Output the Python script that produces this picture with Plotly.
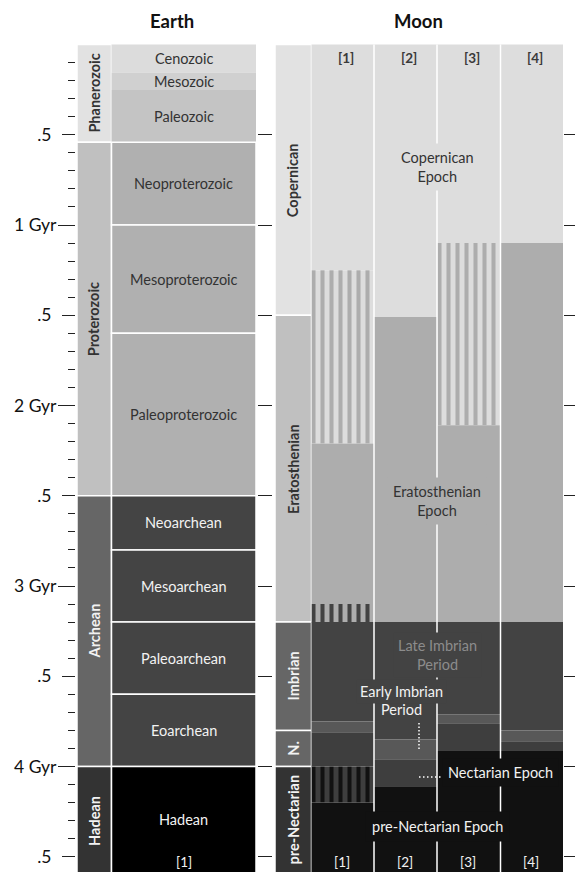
import plotly.graph_objects as go

# ---------------- data (ages in Gyr before present) ----------------
earth_eons = ["Phanerozoic", "Proterozoic", "Archean", "Hadean"]
earth_eon_bounds = [0.0, 0.541, 2.5, 4.0, 4.6]

earth_eras = ["Cenozoic", "Mesozoic", "Paleozoic", "Neoproterozoic",
              "Mesoproterozoic", "Paleoproterozoic", "Neoarchean",
              "Mesoarchean", "Paleoarchean", "Eoarchean", "Hadean"]
earth_era_bounds = [0.0, 0.155, 0.252, 0.541, 1.0, 1.6, 2.5, 2.8, 3.2,
                    3.6, 4.0, 4.6]

moon_periods = ["Copernican", "Eratosthenian", "Imbrian", "N.", "pre-Nectarian"]
moon_period_bounds = [0.0, 1.5, 3.2, 3.8, 4.0, 4.6]

moon_columns = ["[1]", "[2]", "[3]", "[4]"]

moon_col1_units = ["Copernican", "Copernican/Eratosthenian", "Eratosthenian",
                   "Eratosthenian/Late Imbrian", "Late Imbrian", "Early Imbrian",
                   "Nectarian", "Nectarian/pre-Nectarian", "pre-Nectarian"]
moon_col1_bounds = [0.0, 1.25, 2.21, 3.1, 3.2, 3.75, 3.81, 4.0, 4.2, 4.6]

moon_col2_units = ["Copernican", "Eratosthenian", "Late Imbrian", "Early Imbrian",
                   "Nectarian", "pre-Nectarian"]
moon_col2_bounds = [0.0, 1.51, 3.2, 3.85, 3.96, 4.11, 4.6]

moon_col3_units = ["Copernican", "Copernican/Eratosthenian", "Eratosthenian",
                   "Late Imbrian", "Early Imbrian", "Nectarian", "pre-Nectarian"]
moon_col3_bounds = [0.0, 1.1, 2.11, 3.2, 3.71, 3.76, 3.91, 4.6]

moon_col4_units = ["Copernican", "Eratosthenian", "Late Imbrian", "Early Imbrian",
                   "Nectarian", "pre-Nectarian"]
moon_col4_bounds = [0.0, 1.1, 3.2, 3.8, 3.86, 3.91, 4.6]

half_ticks = [0.5, 1.5, 2.5, 3.5, 4.5]
half_labels = [".5", ".5", ".5", ".5", ".5"]
gyr_ticks = [1, 2, 3, 4]
gyr_labels = ["1 Gyr", "2 Gyr", "3 Gyr", "4 Gyr"]
minor_ticks = [round(0.1 * i, 1) for i in range(1, 46)]

# ---------------- styles ----------------
FONT = "Lato"
FS = 14.5
DARK_TXT = "#333333"
LIGHT_TXT = "#f2f2f2"

eon_colors = {"Phanerozoic": "#e2e2e2", "Proterozoic": "#c0c0c0",
              "Archean": "#666666", "Hadean": "#333333"}
eon_text = {"Phanerozoic": DARK_TXT, "Proterozoic": DARK_TXT,
            "Archean": LIGHT_TXT, "Hadean": LIGHT_TXT}
era_colors = {"Cenozoic": "#dcdcdc", "Mesozoic": "#d0d0d0", "Paleozoic": "#c4c4c4",
              "Neoproterozoic": "#b0b0b0", "Mesoproterozoic": "#b0b0b0",
              "Paleoproterozoic": "#b0b0b0", "Neoarchean": "#444444",
              "Mesoarchean": "#444444", "Paleoarchean": "#444444",
              "Eoarchean": "#444444", "Hadean": "#000000"}
light_eras = ("Cenozoic", "Mesozoic", "Paleozoic", "Neoproterozoic",
              "Mesoproterozoic", "Paleoproterozoic")
era_text = {k: (DARK_TXT if k in light_eras else LIGHT_TXT) for k in era_colors}
era_outline = {k: (0 if k in ("Cenozoic", "Mesozoic", "Paleozoic") else 1.5) for k in era_colors}

period_colors = {"Copernican": "#e2e2e2", "Eratosthenian": "#c0c0c0",
                 "Imbrian": "#666666", "N.": "#666666", "pre-Nectarian": "#333333"}
period_text = {"Copernican": DARK_TXT, "Eratosthenian": DARK_TXT,
               "Imbrian": LIGHT_TXT, "N.": LIGHT_TXT, "pre-Nectarian": LIGHT_TXT}
unit_colors = {"Copernican": "#dddddd", "Eratosthenian": "#adadad",
               "Late Imbrian": "#434343", "Early Imbrian": "#585858",
               "Nectarian": "#3e3e3e", "pre-Nectarian": "#111111"}

# ---------------- geometry (page pixels) ----------------
W, H = 575, 872
ML = 3
Y0_PX, PX_PER_GYR = 44.5, 180.5
YR = [(H - Y0_PX) / PX_PER_GYR, -Y0_PX / PX_PER_GYR]

EON_X = (77, 111.5)
ERA_X = (111.5, 256)
PER_X = (275, 311.5)
COL_X = [(311.5, 374), (374, 437), (437, 500.5), (500.5, 563)]
AXIS_L, AXIS_M, AXIS_R = 75, 272, 563


def pf(px):
    return (px - ML) / (W - ML)


def py(px):
    return (px - Y0_PX) / PX_PER_GYR


fig = go.Figure()


def add_box(xs, y0, y1, color, line_w=0, pattern=None):
    marker = dict(color=color, line=dict(color="white", width=line_w))
    if pattern is not None:
        marker["pattern"] = pattern
    fig.add_trace(go.Bar(x=[(xs[0] + xs[1]) / 2], width=[xs[1] - xs[0]],
                         base=[y0], y=[y1 - y0], marker=marker,
                         hoverinfo="skip", showlegend=False))


def label(x, y, text, color, size=FS, bold=False, angle=0, bg=None, pad=1, yref="y"):
    kw = {}
    if bg is not None:
        kw["bgcolor"] = bg
    fig.add_annotation(x=x, y=y, xref="x", yref=yref, text=text, showarrow=False,
                       textangle=angle, borderpad=pad, xanchor="center", yanchor="middle",
                       font=dict(family=FONT, size=size, color=color,
                                 weight=700 if bold else 400), **kw)


# ---- Earth ----
for i, eon in enumerate(earth_eons):
    add_box(EON_X, earth_eon_bounds[i], earth_eon_bounds[i + 1], eon_colors[eon], 1.5)
for i, era in enumerate(earth_eras):
    add_box(ERA_X, earth_era_bounds[i], earth_era_bounds[i + 1], era_colors[era],
            era_outline[era])

# ---- Moon ----
for i, per in enumerate(moon_periods):
    add_box(PER_X, moon_period_bounds[i], moon_period_bounds[i + 1], period_colors[per], 1.5)

moon_cols = [(moon_col1_units, moon_col1_bounds), (moon_col2_units, moon_col2_bounds),
             (moon_col3_units, moon_col3_bounds), (moon_col4_units, moon_col4_bounds)]
for c, (units, bounds) in enumerate(moon_cols):
    for i, u in enumerate(units):
        y0, y1 = bounds[i], bounds[i + 1]
        if u in unit_colors:
            add_box(COL_X[c], y0, y1, unit_colors[u])
        else:
            younger, older = u.split("/")
            pat = dict(shape="|", size=9, solidity=0.45, fillmode="replace",
                       fgcolor=unit_colors[older], bgcolor=unit_colors[younger], fgopacity=1)
            add_box(COL_X[c], y0, y1, unit_colors[younger], 0, pat)

# column separators
sep_x, sep_y = [], []
for c in range(1, 4):
    sep_x += [COL_X[c][0], COL_X[c][0], None]
    sep_y += [moon_period_bounds[0], moon_period_bounds[-1], None]
fig.add_trace(go.Scatter(x=sep_x, y=sep_y, mode="lines", line=dict(color="white", width=1.5),
                         hoverinfo="skip", showlegend=False))

# callout dotted lines
fig.add_trace(go.Scatter(x=[419, 419], y=[py(723), py(749)], mode="lines",
                         line=dict(color="white", width=1.5, dash="1.5px,2px"),
                         hoverinfo="skip", showlegend=False))
fig.add_trace(go.Scatter(x=[419, 446], y=[py(777), py(777)], mode="lines",
                         line=dict(color="white", width=1.5, dash="1.5px,2.5px"),
                         hoverinfo="skip", showlegend=False))

# empty traces so the extra tick axes are drawn
for ax in ("y2", "y3", "y4"):
    fig.add_trace(go.Scatter(x=[None], y=[None], yaxis=ax, mode="lines",
                             hoverinfo="skip", showlegend=False))

# ---- labels ----
ex = (ERA_X[0] + ERA_X[1]) / 2
for i, eon in enumerate(earth_eons):
    label((EON_X[0] + EON_X[1]) / 2, (earth_eon_bounds[i] + earth_eon_bounds[i + 1]) / 2,
          eon, eon_text[eon], size=14.5, bold=True, angle=-90)
for i, era in enumerate(earth_eras):
    yb = (earth_era_bounds[i] + min(earth_era_bounds[i + 1], YR[0])) / 2
    label(ex, yb, era, era_text[era])
label(ex, py(862), "[1]", LIGHT_TXT, size=13.5)

for i, per in enumerate(moon_periods):
    label((PER_X[0] + PER_X[1]) / 2,
          (moon_period_bounds[i] + min(moon_period_bounds[i + 1], YR[0])) / 2,
          per, period_text[per], size=14.5, bold=True, angle=-90)

for c, name in enumerate(moon_columns):
    cx = (COL_X[c][0] + COL_X[c][1]) / 2
    label(cx + 3, py(58), name, "#3a3a3a", size=13.5, bold=True)
    label(cx - 1, py(862), name, LIGHT_TXT, size=13.5)

label(437, py(167), "Copernican<br>Epoch", DARK_TXT, bg=unit_colors["Copernican"], pad=5)
label(437, py(501), "Eratosthenian<br>Epoch", DARK_TXT, bg=unit_colors["Eratosthenian"], pad=5)
label(437, py(655), "Late Imbrian<br>Period", "#8c8c8c", bg=unit_colors["Late Imbrian"], pad=4)
label(401, py(691), "Early Imbrian", LIGHT_TXT, bg=unit_colors["Late Imbrian"], pad=3)
label(401, py(709), "Period", LIGHT_TXT)
label(500, py(772), "Nectarian Epoch", LIGHT_TXT, bg=unit_colors["pre-Nectarian"], pad=5)
label(437, py(826), "pre-Nectarian Epoch", LIGHT_TXT, bg=unit_colors["pre-Nectarian"], pad=6)

# titles
label(172, 1 - 21 / H, "Earth", "#111111", size=18.5, bold=True, yref="paper")
label(418, 1 - 21 / H, "Moon", "#111111", size=18.5, bold=True, yref="paper")

# ---------------- axes ----------------
common = dict(range=YR, showgrid=False, zeroline=False, showline=False,
              ticks="outside", tickwidth=1, tickcolor="#222222", tickmode="array",
              anchor="free", fixedrange=True)
tickfont = dict(family=FONT, size=17.5, color="#111111")
fig.update_layout(
    width=W, height=H,
    margin=dict(l=ML, r=0, t=0, b=0, pad=0),
    paper_bgcolor="white", plot_bgcolor="white",
    barmode="overlay",
    showlegend=False,
    xaxis=dict(range=[ML, W], visible=False, fixedrange=True),
    yaxis=dict(**common, position=pf(AXIS_L), tickvals=half_ticks, ticktext=half_labels,
               ticklen=13, ticklabelstandoff=7, tickfont=tickfont,
               minor=dict(tickmode="array", tickvals=minor_ticks, ticks="outside",
                          ticklen=7, tickwidth=1, tickcolor="#222222", showgrid=False)),
    yaxis2=dict(**common, overlaying="y", position=pf(AXIS_L), tickvals=gyr_ticks,
                ticktext=gyr_labels, ticklen=17, ticklabelstandoff=-2, tickfont=tickfont),
    yaxis3=dict(**common, overlaying="y", position=pf(AXIS_M),
                tickvals=sorted(half_ticks + gyr_ticks), ticklen=14, showticklabels=False),
    yaxis4=dict(**common, overlaying="y", side="right", position=pf(AXIS_R),
                tickvals=sorted(half_ticks + gyr_ticks), ticklen=12, showticklabels=False),
)

fig.write_html("out.html", config={"displayModeBar": False},
               post_script="document.body.style.margin='0px';")
